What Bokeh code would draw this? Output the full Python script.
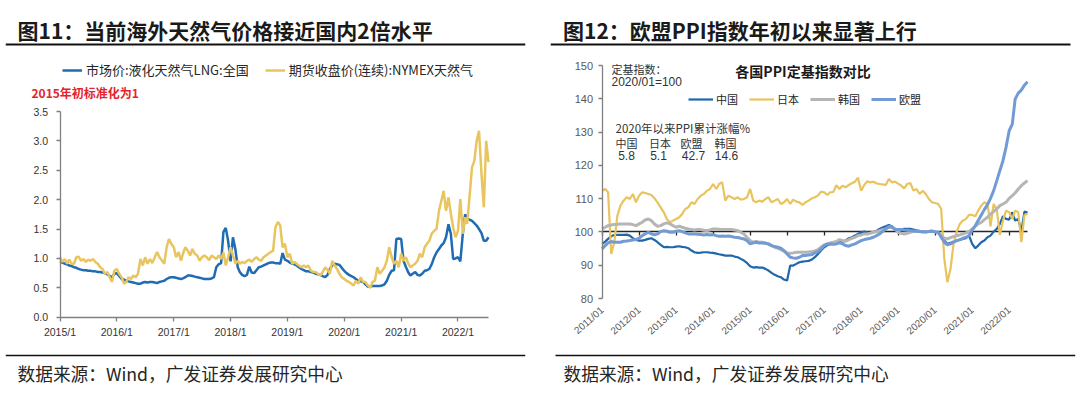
import pandas as pd
from bokeh.plotting import figure
from bokeh.models import (Range1d, Label, Legend, LegendItem, FixedTicker, BoxAnnotation,
                          DatetimeTickFormatter, PrintfTickFormatter, DatetimeAxis)
from bokeh.layouts import row
from bokeh.embed import file_html
from bokeh.resources import INLINE

CJK = "Noto Sans CJK SC"
LAT = "Liberation Sans"

# ---------------- Figure 11 data (semi-monthly, normalised: start of 2015 = 1) ----------------
left_tick_years = [2015, 2016, 2017, 2018, 2019, 2020, 2021, 2022]
left_y_ticks = [0.0, 0.5, 1.0, 1.5, 2.0, 2.5, 3.0, 3.5]

lng_2015 = [0.95, 0.93, 0.91, 0.90, 0.88, 0.87, 0.85, 0.84, 0.82, 0.81, 0.80, 0.80,
            0.79, 0.79, 0.78, 0.78, 0.77, 0.77, 0.76, 0.75, 0.73, 0.70, 0.68, 0.74]
lng_2016 = [0.75, 0.70, 0.65, 0.64, 0.62, 0.61, 0.60, 0.59, 0.58, 0.57, 0.57, 0.59,
            0.60, 0.59, 0.60, 0.60, 0.59, 0.58, 0.60, 0.61, 0.62, 0.65, 0.67, 0.68]
lng_2017 = [0.68, 0.67, 0.66, 0.65, 0.66, 0.68, 0.71, 0.71, 0.70, 0.69, 0.68, 0.67,
            0.66, 0.65, 0.65, 0.65, 0.66, 0.68, 0.85, 0.90, 0.92, 1.45, 1.52, 1.30]
lng_2018 = [0.95, 1.36, 1.15, 0.85, 0.77, 0.72, 0.70, 0.72, 0.86, 0.76, 0.75, 0.80,
            0.85, 0.86, 0.88, 0.90, 0.92, 0.93, 0.93, 0.92, 0.92, 0.91, 1.09, 0.98]
lng_2019 = [0.96, 0.93, 0.91, 0.90, 0.88, 0.85, 0.82, 0.80, 0.78, 0.78, 0.77, 0.76,
            0.74, 0.73, 0.72, 0.70, 0.68, 0.72, 0.82, 0.88, 0.91, 0.90, 0.89, 0.84]
lng_2020 = [0.79, 0.75, 0.72, 0.70, 0.68, 0.65, 0.62, 0.61, 0.60, 0.56, 0.52, 0.52,
            0.53, 0.53, 0.53, 0.53, 0.54, 0.56, 0.62, 0.72, 0.79, 0.80, 1.33, 1.34]
lng_2021 = [1.33, 0.96, 0.85, 0.76, 0.71, 0.74, 0.77, 0.72, 0.71, 0.74, 0.79, 0.80,
            0.82, 0.90, 1.02, 1.10, 1.16, 1.22, 1.26, 1.36, 1.58, 1.42, 0.99, 1.00]
lng_2022 = [1.02, 0.95, 1.42, 1.75, 1.67, 1.66, 1.64, 1.60, 1.56, 1.50, 1.43, 1.30,
            1.30, 1.36]

nym_2015 = [1.02, 0.94, 0.99, 0.91, 0.98, 0.91, 0.91, 1.02, 1.03, 0.96, 0.99, 0.94,
            0.98, 0.96, 0.99, 0.94, 0.91, 0.85, 0.82, 0.74, 0.77, 0.68, 0.60, 0.79]
nym_2016 = [0.82, 0.74, 0.68, 0.57, 0.60, 0.68, 0.65, 0.71, 0.68, 0.74, 0.99, 0.88,
            1.02, 0.91, 0.99, 0.92, 1.02, 1.11, 1.02, 0.97, 0.91, 1.19, 1.33, 1.25]
nym_2017 = [1.19, 1.02, 1.11, 0.96, 1.08, 1.19, 1.13, 1.05, 1.16, 1.08, 1.05, 0.96,
            1.02, 1.05, 1.02, 0.97, 1.05, 1.02, 0.99, 1.05, 0.99, 1.10, 0.88, 1.02]
nym_2018 = [1.19, 1.05, 0.91, 0.96, 0.91, 0.94, 0.92, 0.96, 0.98, 0.94, 0.99, 1.02,
            0.98, 0.96, 1.02, 1.05, 1.08, 1.11, 1.13, 1.53, 1.62, 1.56, 1.19, 1.25]
nym_2019 = [1.02, 1.08, 0.91, 0.94, 0.91, 0.88, 0.85, 0.88, 0.85, 0.88, 0.79, 0.77,
            0.77, 0.74, 0.71, 0.77, 0.85, 0.80, 0.74, 0.96, 0.88, 0.82, 0.74, 0.68]
nym_2020 = [0.65, 0.62, 0.60, 0.57, 0.54, 0.62, 0.57, 0.68, 0.60, 0.60, 0.54, 0.50,
            0.60, 0.62, 0.85, 0.74, 0.79, 0.85, 0.96, 1.19, 1.02, 0.91, 0.96, 0.85]
nym_2021 = [1.08, 0.96, 1.02, 0.91, 0.85, 0.88, 0.91, 0.96, 1.08, 1.02, 1.19, 1.25,
            1.30, 1.42, 1.47, 1.50, 1.81, 1.98, 2.15, 1.81, 2.04, 1.76, 1.53, 1.36]
nym_2022 = [1.47, 2.01, 1.42, 1.70, 1.59, 2.04, 2.55, 2.66, 3.00, 3.17, 2.44, 1.87,
            3.00, 2.64]

lng = lng_2015 + lng_2016 + lng_2017 + lng_2018 + lng_2019 + lng_2020 + lng_2021 + lng_2022
nymex = nym_2015 + nym_2016 + nym_2017 + nym_2018 + nym_2019 + nym_2020 + nym_2021 + nym_2022

# ---------------- Figure 12 data (monthly PPI, 2020/01 = 100) ----------------
right_tick_years = list(range(2011, 2023))
right_y_ticks = [80, 90, 100, 110, 120, 130, 140, 150]

china = [96.4, 97.1, 97.9, 98.7, 99.1, 99.1, 99.1, 99.1, 99.2, 98.9, 98.1, 97.6,
         97.4, 97.4, 97.6, 97.9, 98.1, 97.6, 96.9, 96.1, 95.4, 95.5, 95.4, 95.4,
         95.6, 95.7, 95.5, 95.4, 95.1, 94.4, 93.9, 93.7, 93.8, 93.9, 93.9, 93.8,
         93.7, 93.5, 93.3, 93.1, 92.9, 92.9, 92.9, 92.6, 92.4, 91.9, 91.4, 90.7,
         89.7, 89.3, 89.4, 89.3, 89.3, 88.9, 88.4, 87.7, 87.1, 86.7, 86.4, 85.7,
         85.4, 89.9, 89.9, 90.4, 90.9, 91.1, 91.2, 91.3, 91.7, 92.4, 93.4, 94.4,
         95.4, 96.0, 96.3, 96.4, 96.4, 96.9, 97.1, 97.4, 98.1, 98.4, 98.9, 99.4,
         99.9, 100.1, 99.9, 99.7, 99.9, 100.3, 100.9, 101.3, 101.7, 102.1, 101.7, 100.9,
         100.5, 100.7, 100.9, 100.9, 100.9, 100.7, 100.5, 100.3, 100.2, 99.9, 100.1, 100.3,
         100.0, 99.9, 98.9, 97.4, 96.4, 96.7, 97.1, 97.4, 97.6, 97.9, 98.1, 98.9,
         96.4, 95.1, 95.9, 96.9, 97.4, 98.4, 98.9, 100.1, 100.9, 102.4, 104.7, 103.9,
         103.7, 105.9, 103.4, 103.9, 100.1, 106.1, 105.8]
japan = [112.4, 112.9, 111.9, 93.4, 96.9, 104.9, 107.9, 109.4, 110.4, 109.9, 111.4, 108.9,
         110.9, 111.9, 111.7, 111.4, 111.1, 110.1, 108.9, 107.4, 105.9, 103.9, 102.9, 103.4,
         103.9, 104.4, 105.4, 106.9, 107.4, 108.9, 108.4, 109.9, 110.9, 111.4, 112.4, 112.9,
         114.4, 112.9, 114.4, 114.9, 109.4, 110.9, 110.4, 109.9, 110.4, 109.7, 109.9, 110.4,
         112.9, 109.4, 108.9, 109.4, 109.1, 109.9, 110.4, 108.9, 109.4, 109.9, 108.4, 108.9,
         109.9, 108.4, 109.7, 109.1, 108.9, 108.1, 108.9, 109.4, 110.1, 110.4, 110.9, 112.1,
         111.9, 111.1, 111.9, 112.0, 114.0, 112.9, 113.9, 113.4, 114.1, 114.6, 115.1, 116.3,
         112.4, 114.1, 115.2, 114.9, 115.1, 114.6, 114.4, 114.3, 114.1, 115.9, 114.9, 115.1,
         114.5, 113.9, 113.1, 114.4, 114.7, 112.4, 112.9, 111.4, 112.4, 111.4, 109.9, 108.9,
         108.7, 108.4, 106.9, 91.9, 84.9, 88.9, 96.4, 100.1, 102.4, 103.4, 103.9, 105.1,
         105.1, 104.7, 106.4, 107.9, 108.9, 108.4, 101.7, 108.4, 106.7, 99.1, 103.4, 106.4,
         105.9, 103.9, 106.4, 105.9, 96.9, 105.1, 105.4]
korea = [100.9, 101.4, 101.9, 102.1, 102.2, 102.3, 102.4, 102.4, 102.4, 102.4, 102.2, 101.9,
         102.4, 102.9, 103.6, 103.9, 103.4, 102.4, 101.7, 101.9, 102.4, 102.7, 102.4, 101.9,
         101.4, 101.7, 101.4, 101.1, 100.9, 100.7, 100.6, 100.7, 100.7, 100.5, 100.4, 100.6,
         100.9, 100.9, 100.8, 100.7, 100.7, 100.7, 100.7, 100.6, 100.4, 99.9, 99.4, 98.4,
         97.4, 96.9, 97.1, 96.9, 96.9, 96.7, 96.4, 95.9, 95.4, 95.1, 94.7, 94.2,
         93.7, 93.6, 93.7, 93.9, 93.9, 93.9, 93.9, 94.0, 94.1, 94.3, 94.7, 95.4,
         96.1, 96.4, 96.7, 96.9, 97.1, 97.7, 97.4, 97.2, 97.7, 98.1, 98.4, 98.9,
         99.1, 99.4, 99.4, 99.6, 99.9, 100.1, 100.4, 100.7, 100.9, 101.4, 101.4, 100.9,
         99.9, 99.6, 99.4, 99.6, 99.9, 100.1, 100.2, 100.1, 99.9, 100.1, 100.2, 100.3,
         100.0, 99.7, 98.9, 98.1, 97.9, 98.3, 98.6, 98.9, 99.1, 99.4, 99.7, 100.1,
         100.9, 101.7, 102.4, 102.9, 103.7, 104.4, 105.4, 106.1, 106.9, 107.9, 108.4, 108.9,
         110.1, 110.9, 111.7, 112.9, 113.9, 114.7, 115.4]
eu = [94.9, 95.9, 96.7, 97.1, 96.9, 96.9, 96.9, 97.2, 97.3, 97.4, 97.6, 97.7,
      98.1, 98.9, 99.4, 99.9, 99.4, 99.1, 99.4, 100.1, 100.4, 100.2, 99.9, 99.9,
      100.2, 100.4, 100.1, 99.7, 99.4, 99.4, 99.4, 99.3, 99.2, 99.1, 99.2, 99.1,
      99.2, 98.9, 98.7, 98.8, 98.7, 98.8, 98.6, 98.4, 98.3, 98.1, 97.9, 97.4,
      96.4, 96.7, 96.9, 96.7, 96.7, 96.6, 96.4, 95.9, 95.6, 95.4, 95.1, 94.4,
      93.4, 92.4, 92.2, 92.1, 92.4, 92.9, 92.9, 93.1, 93.2, 93.7, 94.1, 94.9,
      95.9, 96.4, 96.4, 96.3, 96.4, 96.7, 96.4, 95.9, 95.7, 96.1, 96.4, 96.9,
      97.4, 97.7, 97.9, 98.1, 98.4, 98.9, 99.4, 100.1, 100.9, 101.7, 101.4, 100.7,
      100.7, 100.7, 100.6, 100.5, 100.4, 100.3, 100.2, 100.1, 100.1, 100.0, 100.1, 100.2,
      100.0, 99.9, 98.4, 96.9, 96.1, 96.4, 96.9, 97.4, 97.7, 98.1, 98.4, 98.9,
      100.5, 101.9, 103.4, 105.1, 106.7, 108.2, 110.1, 112.4, 115.4, 118.4, 121.4, 125.4,
      130.4, 132.4, 139.9, 141.7, 142.6, 144.1, 145.1]

rise_names = ["中国", "日本", "欧盟", "韩国"]
rise_values = ["5.8", "5.1", "42.7", "14.6"]

# ---------------- dates ----------------
left_months = pd.date_range("2015-01-01", periods=len(lng) // 2, freq="MS")
left_dates = []
for m in left_months:
    left_dates += [m, m + pd.Timedelta(days=15)]
left_dates = pd.DatetimeIndex(left_dates)
right_dates = pd.date_range("2011-01-01", periods=len(china), freq="MS")


def ms(ts):
    return pd.Timestamp(ts).value / 1e6


# ---------------- layout geometry (pixels of the 1080x393 page) ----------------
H = 393
# left panel: frame spans page x 5..525, full height
L_FL, L_FR = 5, 525
l_xa, l_pa = ms(left_dates[0]), 59.5
l_xb, l_pb = ms(left_dates[-1]), 488.0
l_kx = (l_xb - l_xa) / (l_pb - l_pa)
l_y0, l_y1 = 316.7, 111.0            # pixel rows of 0 and 3.5
l_ky = 3.5 / (l_y0 - l_y1)


def X1(px):
    return l_xa + (px - l_pa) * l_kx


def Y1(py):
    return (l_y0 - py) * l_ky


# right panel: frame spans page x 550..1075, full height
R_FL, R_FR = 550, 1075
r_xa, r_pa = ms(right_dates[0]), 601.6
r_xb, r_pb = ms(right_dates[-1]), 1027.0
r_kx = (r_xb - r_xa) / (r_pb - r_pa)
r_y80, r_y150 = 298.0, 65.0
r_ky = 70.0 / (r_y80 - r_y150)


def X2(px):
    return r_xa + (px - r_pa) * r_kx


def Y2(py):
    return 80 + (r_y80 - py) * r_ky


def bare(fig):
    fig.xgrid.visible = False
    fig.ygrid.visible = False
    fig.outline_line_color = None
    fig.background_fill_color = "white"
    fig.border_fill_color = "white"
    return fig


def style_axis(ax, color, font_size, label_color):
    ax.axis_line_color = color
    ax.axis_line_width = 1.3
    ax.major_tick_line_color = color
    ax.major_tick_line_width = 1.3
    ax.major_tick_out = 4
    ax.major_tick_in = 0
    ax.minor_tick_line_color = None
    ax.major_label_text_font = LAT
    ax.major_label_text_font_size = font_size
    ax.major_label_text_color = label_color


def rule(fig, X, Y, x0, x1, yc, thick):
    fig.add_layout(BoxAnnotation(left=X(x0), right=X(x1), top=Y(yc - thick / 2),
                                 bottom=Y(yc + thick / 2), fill_color="#111111", fill_alpha=1.0,
                                 line_color=None, level="underlay"))


def lab(fig, x, y, text, size="11px", font=CJK, align="left", style="normal", color="#333333"):
    fig.add_layout(Label(x=x, y=y, text=text, text_font=font, text_font_size=size,
                         text_align=align, text_font_style=style, text_color=color,
                         text_baseline="middle"))


# ---------------- Figure 11 ----------------
p1 = figure(x_axis_type="datetime", frame_width=L_FR - L_FL, frame_height=H,
            min_border_left=L_FL, min_border_right=540 - L_FR, min_border_top=0, min_border_bottom=0,
            x_range=Range1d(X1(L_FL), X1(L_FR)), y_range=Range1d(Y1(H), Y1(0)),
            toolbar_location=None, output_backend="svg")
bare(p1)

r_lng = p1.line(left_dates, lng, line_color="#1f6cb4", line_width=2.5)
r_nym = p1.line(left_dates, nymex, line_color="#e8c55f", line_width=2.5)

ya = p1.yaxis[0]
style_axis(ya, "#808080", "10.5px", "#333333")
ya.ticker = FixedTicker(ticks=left_y_ticks)
ya.formatter = PrintfTickFormatter(format="%.1f")
ya.bounds = (0, 3.5)
ya.fixed_location = l_xa
ya.major_label_standoff = 8
xa = p1.xaxis[0]
style_axis(xa, "#808080", "10.5px", "#333333")
xa.ticker = FixedTicker(ticks=[ms(f"{y}-01-01") for y in left_tick_years])
xa.formatter = DatetimeTickFormatter(years="%Y/1", months="%Y/1", days="%Y/1")
xa.bounds = (l_xa, l_xb)
xa.fixed_location = 0
xa.major_label_standoff = 5

leg1 = Legend(items=[LegendItem(label="市场价:液化天然气LNG:全国", renderers=[r_lng]),
                     LegendItem(label="期货收盘价(连续):NYMEX天然气", renderers=[r_nym])],
              location=(62 - L_FL, H - 79.3), orientation="horizontal", padding=0, margin=0,
              spacing=16, glyph_width=20, glyph_height=16, label_height=16, label_standoff=4,
              label_text_font=CJK, label_text_font_size="13px", label_text_color="#262626",
              border_line_color=None, background_fill_alpha=0)
p1.add_layout(leg1)

rule(p1, X1, Y1, 5, 525, 44, 2)
rule(p1, X1, Y1, 5, 525, 355, 1.6)
lab(p1, X1(17), Y1(29.4), "图11：当前海外天然气价格接近国内2倍水平", size="21px", style="bold",
    color="#1a1a1a")
lab(p1, X1(17), Y1(372), "数据来源：Wind，广发证券发展研究中心", size="17.7px", color="#262626")
lab(p1, X1(31), Y1(92.4), "2015年初标准化为1", size="12px", style="bold", color="#e3232a")

# ---------------- Figure 12 ----------------
p2 = figure(x_axis_type="datetime", frame_width=R_FR - R_FL, frame_height=H,
            min_border_left=R_FL - 540, min_border_right=1080 - R_FR, min_border_top=0,
            min_border_bottom=0,
            x_range=Range1d(X2(R_FL), X2(R_FR)), y_range=Range1d(Y2(H), Y2(0)),
            toolbar_location=None, output_backend="svg")
bare(p2)

# axis crossing at 100: line with year ticks, no labels
cross = DatetimeAxis(fixed_location=100, bounds=(r_xa, r_xb), level="underlay")
style_axis(cross, "#262626", "10px", "#595959")
cross.axis_line_width = 1.4
cross.ticker = FixedTicker(ticks=[ms(f"{y}-01-01") for y in right_tick_years])
cross.major_label_text_color = None
p2.add_layout(cross, "below")

r_cn = p2.line(right_dates, china, line_color="#1f67ab", line_width=2.2)
r_jp = p2.line(right_dates, japan, line_color="#e8c35e", line_width=2.2)
r_kr = p2.line(right_dates, korea, line_color="#b5b5b5", line_width=3)
r_eu = p2.line(right_dates, eu, line_color="#729bd6", line_width=3)

yb = p2.yaxis[0]
style_axis(yb, "#808080", "11px", "#595959")
yb.ticker = FixedTicker(ticks=right_y_ticks)
yb.bounds = (80, 150)
yb.fixed_location = r_xa
yb.major_label_standoff = 5
xb = p2.xaxis[0]
style_axis(xb, "#808080", "10px", "#595959")
xb.axis_line_color = None
xb.major_tick_line_color = None
xb.ticker = FixedTicker(ticks=[ms(f"{y}-01-01") for y in right_tick_years])
xb.formatter = DatetimeTickFormatter(years="%Y/%m", months="%Y/%m", days="%Y/%m")
xb.major_label_orientation = 0.72
xb.major_label_standoff = 6
xb.fixed_location = 80

leg2 = Legend(items=[LegendItem(label="中国", renderers=[r_cn]),
                     LegendItem(label="日本", renderers=[r_jp]),
                     LegendItem(label="韩国", renderers=[r_kr]),
                     LegendItem(label="欧盟", renderers=[r_eu])],
              location=(688 - R_FL, H - 107), orientation="horizontal", padding=0, margin=0,
              spacing=11, glyph_width=25, glyph_height=14, label_height=14, label_standoff=3,
              label_text_font=CJK, label_text_font_size="11px", label_text_color="#262626",
              border_line_color=None, background_fill_alpha=0)
p2.add_layout(leg2)

rule(p2, X2, Y2, 550, 1070, 44, 2)
rule(p2, X2, Y2, 555, 1075, 355, 1.6)
lab(p2, X2(562.5), Y2(29.4), "图12：欧盟PPI指数年初以来显著上行", size="21px", style="bold",
    color="#1a1a1a")
lab(p2, X2(563), Y2(372), "数据来源：Wind，广发证券发展研究中心", size="17.7px", color="#262626")
lab(p2, X2(611), Y2(68.3), "定基指数：", size="11px")
lab(p2, X2(611), Y2(81), "2020/01=100", size="12px", font=LAT)
lab(p2, X2(802.5), Y2(70.5), "各国PPI定基指数对比", size="14px", align="center", style="bold",
    color="#1a1a1a")
lab(p2, X2(615), Y2(127.7), "2020年以来PPI累计涨幅%", size="11.5px")
for cx, nm in zip([626, 659.5, 691, 725], rise_names):
    lab(p2, X2(cx), Y2(142.3), nm, size="11px", align="center")
for cx, vv in zip([626, 658, 693, 726], rise_values):
    lab(p2, X2(cx), Y2(155), vv, size="12px", font=LAT, align="center")

layout = row(p1, p2)
open("out.html", "w").write(file_html(layout, INLINE))
